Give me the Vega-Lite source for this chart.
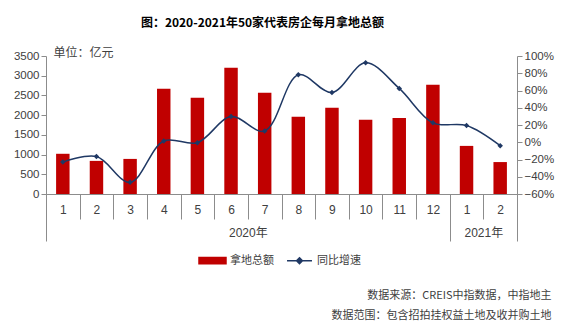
{
  "$schema": "https://vega.github.io/schema/vega-lite/v6.json",
  "width": 471,
  "height": 138,
  "padding": {"left": 13, "top": 17, "right": 5, "bottom": 5},
  "background": "white",
  "config": {
    "view": {"stroke": null},
    "axis": {"grid": false, "domainColor": "#8c8c8c", "tickColor": "#8c8c8c", "labelColor": "#404040", "labelFont": "Liberation Sans", "labelFontSize": 12}
  },
  "title": {
    "text": "图：2020-2021年50家代表房企每月拿地总额",
    "font": "Noto Sans CJK SC",
    "fontSize": 12,
    "fontWeight": "bold",
    "color": "#000000",
    "anchor": "middle",
    "dx": -19,
    "offset": 16
  },
  "data": {
    "values": [
      {"key": "2020-01", "i": 1, "amount": 1020, "yoy": -0.23},
      {"key": "2020-02", "i": 2, "amount": 840, "yoy": -0.166},
      {"key": "2020-03", "i": 3, "amount": 890, "yoy": -0.465},
      {"key": "2020-04", "i": 4, "amount": 2670, "yoy": 0.015},
      {"key": "2020-05", "i": 5, "amount": 2440, "yoy": -0.005},
      {"key": "2020-06", "i": 6, "amount": 3200, "yoy": 0.298},
      {"key": "2020-07", "i": 7, "amount": 2570, "yoy": 0.13},
      {"key": "2020-08", "i": 8, "amount": 1960, "yoy": 0.783},
      {"key": "2020-09", "i": 9, "amount": 2190, "yoy": 0.577},
      {"key": "2020-10", "i": 10, "amount": 1880, "yoy": 0.922},
      {"key": "2020-11", "i": 11, "amount": 1930, "yoy": 0.624},
      {"key": "2020-12", "i": 12, "amount": 2770, "yoy": 0.225},
      {"key": "2021-01", "i": 13, "amount": 1220, "yoy": 0.194},
      {"key": "2021-02", "i": 14, "amount": 810, "yoy": -0.04}
    ]
  },
  "layer": [
    {
      "mark": {"type": "bar", "width": {"band": 0.4}},
      "encoding": {
        "x": {
          "field": "key", "type": "ordinal",
          "scale": {"paddingInner": 0, "paddingOuter": 0},
          "axis": {
            "orient": "bottom",
            "title": null,
            "labelExpr": "isString(datum.value) ? '' + toNumber(substring(datum.value, 5)) : ''",
            "labelAngle": 0,
            "tickBand": "extent",
            "tickSize": 25,
            "labelPadding": -15
          }
        },
        "y": {
          "field": "amount", "type": "quantitative",
          "scale": {"domain": [0, 3500], "nice": false},
          "axis": {
            "orient": "left",
            "values": [0, 500, 1000, 1500, 2000, 2500, 3000, 3500],
            "format": "d",
            "tickSize": 5,
            "labelPadding": 2,
            "labelFontSize": 11.5,
            "title": "单位：亿元",
            "titleAngle": 0,
            "titleAlign": "left",
            "titleBaseline": "alphabetic",
            "titleX": 7,
            "titleY": 0,
            "titleFont": "Noto Sans CJK SC",
            "titleFontSize": 12,
            "titleFontWeight": "normal",
            "titleColor": "#404040"
          }
        },
        "color": {
          "datum": "拿地总额", "type": "nominal",
          "scale": {"domain": ["拿地总额", "同比增速"], "range": ["#c00000", "#1f3864"]},
          "legend": {
            "title": null,
            "orient": "none",
            "legendX": 156,
            "legendY": 194,
            "direction": "horizontal",
            "labelFont": "Noto Sans CJK SC",
            "labelFontSize": 11,
            "labelColor": "#404040",
            "symbolSize": 380,
            "symbolStrokeWidth": 1.5,
            "labelOffset": 7,
            "columnPadding": 10,
            "encode": {
              "symbols": {
                "update": {
                  "shape": {"signal": "datum.value === '拿地总额' ? 'M-1.385,-0.33H1.385V0.33H-1.385Z' : 'M-1.28,0H1.28M0,-0.3L0.3,0L0,0.3L-0.3,0Z'"},
                  "fill": {"signal": "datum.value === '拿地总额' ? '#c00000' : '#1f3864'"},
                  "stroke": {"signal": "datum.value === '拿地总额' ? 'transparent' : '#1f3864'"}
                }
              }
            }
          }
        }
      }
    },
    {
      "mark": {
        "type": "line",
        "interpolate": "catmull-rom",
        "strokeWidth": 1.5,
        "point": {"shape": "diamond", "size": 30, "filled": true}
      },
      "encoding": {
        "x": {
          "field": "i", "type": "quantitative",
          "scale": {"domain": [0.5, 14.5], "nice": false, "zero": false},
          "axis": {
            "orient": "bottom",
            "values": [0.5, 6.5, 12.5, 13.5, 14.5],
            "labelExpr": "datum.value === 6.5 ? '2020年' : datum.value === 13.5 ? '2021年' : ''",
            "labelFont": "Liberation Sans, Noto Sans CJK SC",
            "labelOverlap": false,
            "labelFlush": false,
            "tickSize": 47,
            "tickOpacity": {"condition": {"test": "datum.value === 6.5 || datum.value === 13.5", "value": 0}, "value": 1},
            "labelPadding": -14,
            "title": ["数据来源：CREIS中指数据，中指地主", "数据范围：包含招拍挂权益土地及收并购土地"],
            "titleAlign": "right",
            "titleBaseline": "alphabetic",
            "titleAnchor": "end",
            "titleX": 505,
            "titleY": 104,
            "titleLineHeight": 20,
            "titleFont": "Noto Sans CJK SC",
            "titleFontSize": 11,
            "titleFontWeight": "normal",
            "titleColor": "#404040"
          }
        },
        "y": {
          "field": "yoy", "type": "quantitative",
          "scale": {"domain": [-0.6, 1.0], "nice": false},
          "axis": {
            "orient": "right",
            "values": [-0.6, -0.4, -0.2, 0, 0.2, 0.4, 0.6, 0.8, 1.0],
            "format": ".0%",
            "tickSize": 5,
            "labelPadding": 2,
            "labelFontSize": 11.5,
            "title": null
          }
        },
        "color": {"datum": "同比增速", "type": "nominal"}
      }
    }
  ],
  "resolve": {"scale": {"x": "independent", "y": "independent"}}
}
